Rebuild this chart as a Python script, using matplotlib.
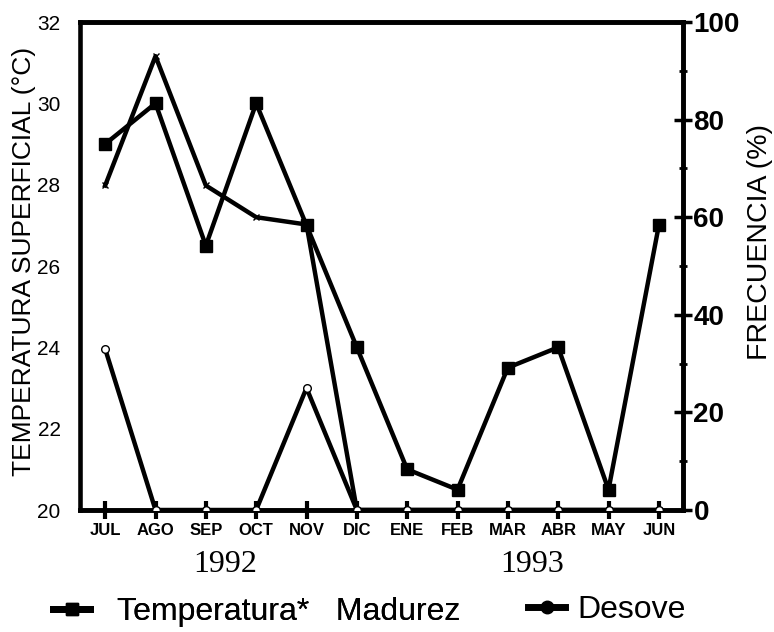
import matplotlib
matplotlib.use("Agg")
import matplotlib.pyplot as plt
from matplotlib.lines import Line2D

months = ["JUL", "AGO", "SEP", "OCT", "NOV", "DIC", "ENE", "FEB", "MAR", "ABR", "MAY", "JUN"]
temperatura = [29.0, 30.0, 26.5, 30.0, 27.0, 24.0, 21.0, 20.5, 23.5, 24.0, 20.5, 27.0]
madurez = [66.5, 93.0, 66.5, 60.0, 58.5, 0, 0, 0, 0, 0, 0, 0]
desove = [33.0, 0, 0, 0, 25.0, 0, 0, 0, 0, 0, 0, 0]
left_ticks = [20, 22, 24, 26, 28, 30, 32]
right_ticks = [0, 20, 40, 60, 80, 100]
years = ["1992", "1993"]

W, H = 774, 632
fig = plt.figure(figsize=(W/100, H/100), dpi=100)
ax = fig.add_axes([80/W, 1-510/H, (683-80)/W, (510-22)/H])
ax2 = ax.twinx()

x = list(range(len(months)))
ax.set_xlim(-0.5, 11.48)
ax.set_ylim(20, 32)
ax2.set_ylim(0, 100)

lw = 3.2
ax.plot(x, temperatura, color="black", lw=lw, marker="s", ms=8.5, zorder=3)
ax2.plot(x, madurez, color="black", lw=lw, marker="x", ms=4, mew=1, zorder=3)
ax2.plot(x, desove, color="black", lw=lw, marker="o", ms=5.5, mfc="white", mec="black", mew=1, zorder=3)

for a in (ax, ax2):
    for s in a.spines.values():
        s.set_linewidth(3.3)
ax2.spines["left"].set_visible(False)

ax.set_xticks(x)
ax.set_xticklabels(months, fontsize=12, fontweight="bold", family="Liberation Sans")
ax.tick_params(axis="x", direction="inout", length=13, width=3, pad=3)
ax.set_yticks(left_ticks)
ax.set_yticklabels([str(t) for t in left_ticks], fontsize=15, family="Liberation Sans")
ax.tick_params(axis="y", length=0, pad=14)

ax2.set_yticks(right_ticks)
ax2.set_yticklabels([str(t) for t in right_ticks], fontsize=20, fontweight="bold", family="Liberation Sans")
ax2.set_yticks([10, 30, 50, 70, 90], minor=True)
ax2.tick_params(axis="y", which="major", direction="inout", length=13, width=2.5, pad=1)
ax2.tick_params(axis="y", which="minor", direction="inout", length=6, width=2)

ax.set_ylabel("TEMPERATURA SUPERFICIAL (°C)", fontsize=19, family="Liberation Sans")
ax.yaxis.set_label_coords((36-80)/603, 0.51)
ax2.set_ylabel("FRECUENCIA (%)", fontsize=20.5, family="Liberation Sans")
ax2.yaxis.set_label_coords((747-80)/603, 0.55)

fig.text(225/W, 1-564/H, years[0], ha="center", va="center", fontsize=23, family="Liberation Serif")
fig.text(532/W, 1-564/H, years[1], ha="center", va="center", fontsize=23, family="Liberation Serif")

h1 = Line2D([], [], color="black", lw=5, marker="s", ms=9)
h2 = Line2D([], [], color="black", lw=5, marker="o", ms=9)
prop = {"family": "Liberation Sans", "size": 23}
leg1 = fig.legend([h1], ["Temperatura*   Madurez"], loc="center left",
                  bbox_to_anchor=(53/W, 1-612/H), frameon=False, prop=prop,
                  handlelength=1.16, handletextpad=0.85, borderpad=0, borderaxespad=0)
fig.add_artist(leg1)
fig.legend([h2], ["Desove"], loc="center left",
           bbox_to_anchor=(528/W, 1-610/H), frameon=False, prop=prop,
           handlelength=1.16, handletextpad=0.4, borderpad=0, borderaxespad=0)

fig.savefig("out.png", dpi=100)
